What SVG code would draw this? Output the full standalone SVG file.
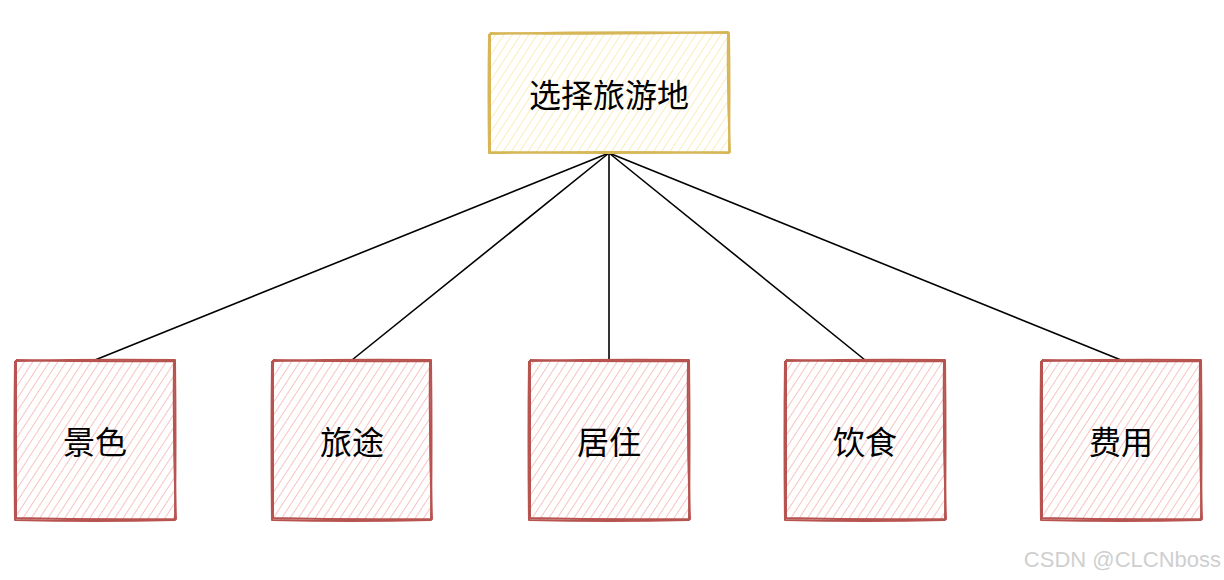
<svg xmlns="http://www.w3.org/2000/svg" width="1224" height="580" viewBox="0 0 1224 580">
  <defs>
    <pattern id="hatchY" patternUnits="userSpaceOnUse" width="7" height="7" patternTransform="rotate(33)">
      <line x1="0" y1="0" x2="0" y2="7" stroke="#fcecb8" stroke-width="2"/>
    </pattern>
    <pattern id="hatchR" patternUnits="userSpaceOnUse" width="7" height="7" patternTransform="rotate(33)">
      <line x1="0" y1="0" x2="0" y2="7" stroke="#f6c4c2" stroke-width="2"/>
    </pattern>
  </defs>
  <style>
    .lbl { font-family: "Noto Sans CJK SC", "Noto Sans", sans-serif; font-size: 32px; fill: #000; text-anchor: middle; dominant-baseline: central; }
    .yb { fill: none; stroke: #d6b656; stroke-width: 2; stroke-linejoin: round; }
    .rb { fill: none; stroke: #b85450; stroke-width: 2; stroke-linejoin: round; }
    .edge { fill: none; stroke: #000; stroke-width: 1.6; }
    .wm { font-family: "Liberation Sans", Arial, sans-serif; font-size: 22px; fill: #cfcfcf; }
  </style>
  <rect width="1224" height="580" fill="#ffffff"/>

  <g id="connectors">
    <path class="edge" d="M609 153 L95 360"/>
    <path class="edge" d="M609 153 L352 360"/>
    <path class="edge" d="M609 153 L609 360"/>
    <path class="edge" d="M609 153 L865 360"/>
    <path class="edge" d="M609 153 L1121 360"/>
  </g>

  <g id="node-root">
    <rect x="489" y="33" width="240" height="120" fill="url(#hatchY)"/>
    <path class="yb" d="M489 34 Q609 31 729 33 Q730 93 729 153 Q609 151 489 153 Q488 93 489 34"/>
    <path class="yb" d="M490 33 Q610 35 728 32 Q727 92 730 152 Q609 154 490 152 Q490 94 490 33" stroke-width="1"/>
    <text class="lbl" x="609" y="93">选择旅游地</text>
  </g>

  <g id="node-jingse">
    <rect x="15" y="360" width="160" height="160" fill="url(#hatchR)"/>
    <path class="rb" d="M15 361 Q95 359 175 360 Q176 440 175 520 Q95 522 15 520 Q14 440 15 361"/>
    <path class="rb" d="M16 360 Q96 362 174 361 Q173 440 176 519 Q95 520 16 518 Q16 441 16 360" stroke-width="1"/>
    <text class="lbl" x="95" y="440">景色</text>
  </g>

  <g id="node-lvtu">
    <rect x="272" y="360" width="159" height="160" fill="url(#hatchR)"/>
    <path class="rb" d="M272 361 Q352 359 431 360 Q432 440 431 520 Q352 522 272 520 Q271 440 272 361"/>
    <path class="rb" d="M273 360 Q352 362 430 361 Q429 440 432 519 Q352 520 273 518 Q273 441 273 360" stroke-width="1"/>
    <text class="lbl" x="352" y="440">旅途</text>
  </g>

  <g id="node-juzhu">
    <rect x="529" y="360" width="160" height="160" fill="url(#hatchR)"/>
    <path class="rb" d="M529 361 Q609 359 689 360 Q690 440 689 520 Q609 522 529 520 Q528 440 529 361"/>
    <path class="rb" d="M530 360 Q609 362 688 361 Q687 440 690 519 Q609 520 530 518 Q530 441 530 360" stroke-width="1"/>
    <text class="lbl" x="609" y="440">居住</text>
  </g>

  <g id="node-yinshi">
    <rect x="785" y="360" width="160" height="160" fill="url(#hatchR)"/>
    <path class="rb" d="M785 361 Q865 359 945 360 Q946 440 945 520 Q865 522 785 520 Q784 440 785 361"/>
    <path class="rb" d="M786 360 Q865 362 944 361 Q943 440 946 519 Q865 520 786 518 Q786 441 786 360" stroke-width="1"/>
    <text class="lbl" x="865" y="440">饮食</text>
  </g>

  <g id="node-feiyong">
    <rect x="1041" y="360" width="160" height="160" fill="url(#hatchR)"/>
    <path class="rb" d="M1041 361 Q1121 359 1201 360 Q1202 440 1201 520 Q1121 522 1041 520 Q1040 440 1041 361"/>
    <path class="rb" d="M1042 360 Q1121 362 1200 361 Q1199 440 1202 519 Q1121 520 1042 518 Q1042 441 1042 360" stroke-width="1"/>
    <text class="lbl" x="1121" y="440">费用</text>
  </g>

  <text class="wm" x="1221" y="567" text-anchor="end">CSDN @CLCNboss</text>
</svg>
